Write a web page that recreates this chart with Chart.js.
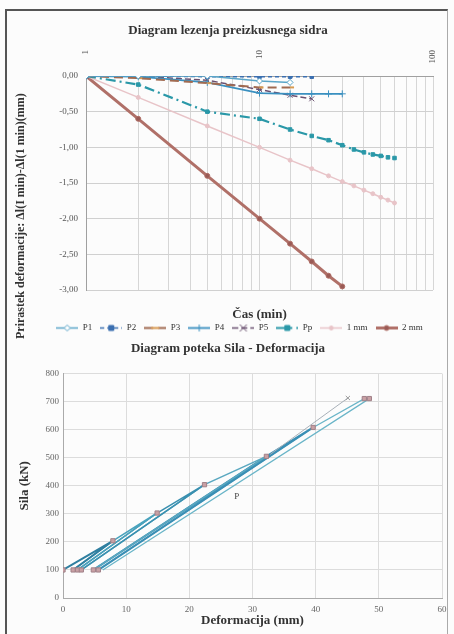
<!DOCTYPE html>
<html><head><meta charset="utf-8">
<script src="https://cdn.jsdelivr.net/npm/chart.js@4/dist/chart.umd.min.js"></script>
<style>
html,body{margin:0;padding:0;background:#fcfcfc;}
#wrap{position:relative;width:454px;height:634px;overflow:hidden;}
#frame{position:absolute;left:5px;top:9px;width:440px;height:640px;border-left:2px solid #555;border-top:2px solid #555;border-right:1px solid #aaa;}
#c1{position:absolute;left:0;top:0;}
#c2{position:absolute;left:0;top:340px;}
</style></head><body>
<div id="wrap"><div id="frame"></div>
<canvas id="c1" width="454" height="346" style="width:454px;height:346px"></canvas>
<canvas id="c2" width="454" height="294" style="width:454px;height:294px"></canvas>
</div>
<script>
// ---------- Top chart data ----------
const topTitle = 'Diagram lezenja preizkusnega sidra';
const topYTitle = 'Prirastek deformacije: \u0394l(I min)-\u0394l(1 min)(mm)';
const topXTitle = '\u010Cas (min)';
const timeTickValues = [1, 10, 100];
const timeTickLabels = ['1', '10', '100'];
const seriesNames = ['P1', 'P2', 'P3', 'P4', 'P5', 'Pp', '1 mm', '2 mm'];
const timesP1 = [1, 2, 5, 10, 15];
const valuesP1 = [0, 0, 0, -0.07, -0.09];
const timesP2 = [1, 2, 5, 10, 15, 20];
const valuesP2 = [0, 0, -0.01, -0.01, -0.01, -0.01];
const timesP3 = [1, 2, 5, 10, 15];
const valuesP3 = [0, -0.03, -0.10, -0.16, -0.16];
const timesP4 = [1, 2, 5, 10, 15, 20, 25, 30];
const valuesP4 = [0, -0.01, -0.09, -0.24, -0.25, -0.25, -0.25, -0.25];
const timesP5 = [1, 2, 5, 10, 15, 20];
const valuesP5 = [0, 0, -0.06, -0.19, -0.27, -0.32];
const timesPp = [1, 2, 5, 10, 15, 20, 25, 30, 35, 40, 45, 50, 55, 60];
const valuesPp = [0, -0.12, -0.50, -0.60, -0.75, -0.84, -0.90, -0.97, -1.03, -1.07, -1.10, -1.12, -1.14, -1.15];
const times1mm = [1, 2, 5, 10, 15, 20, 25, 30, 35, 40, 45, 50, 55, 60];
const values1mm = [0, -0.30, -0.70, -1.00, -1.18, -1.30, -1.40, -1.48, -1.54, -1.60, -1.65, -1.70, -1.74, -1.78];
const times2mm = [1, 2, 5, 10, 15, 20, 25, 30];
const values2mm = [0, -0.60, -1.40, -2.00, -2.35, -2.60, -2.80, -2.95];
const yTicksTop = [0, -0.5, -1, -1.5, -2, -2.5, -3];

// ---------- Bottom chart data ----------
const botTitle = 'Diagram poteka Sila - Deformacija';
const botXTitle = 'Deformacija (mm)';
const botYTitle = 'Sila (kN)';
const cycle1X = [0, 7.9, 1.6];            const cycle1Y = [100, 204, 100];
const cycle2X = [1.6, 7.9, 14.9, 2.3];    const cycle2Y = [100, 204, 303, 100];
const cycle3X = [2.3, 14.9, 22.4, 2.9];   const cycle3Y = [100, 303, 404, 100];
const cycle4X = [2.9, 22.4, 32.2, 4.8];   const cycle4Y = [100, 404, 505, 100];
const cycle5X = [4.8, 32.2, 39.6, 5.6];   const cycle5Y = [100, 505, 608, 100];
const cycle6X = [5.6, 39.6, 47.7, 48.5, 6.3]; const cycle6Y = [100, 608, 711, 711, 100];
const creepX = [32.8, 45.1];              const creepY = [512, 713];
const markX = [0, 1.6, 2.3, 2.9, 4.8, 5.6, 7.9, 14.9, 22.4, 32.2, 39.6, 47.7, 48.5];
const markY = [100, 100, 100, 100, 100, 100, 204, 303, 404, 505, 608, 711, 711];
const pLabel = { text: 'P', x: 27.5, y: 360 };

// ---------- helpers ----------
const pts = (xs, ys) => xs.map((x, i) => ({ x: x, y: ys[i] }));
Chart.defaults.font.family = '"Liberation Serif", "Times New Roman", serif';
Chart.defaults.color = '#555';

const topStyles = [
  { c: '#5aa5c8', w: 1.5, dash: [], ps: 'rectRot', r: 3, fill: '#ffffff' },
  { c: '#3b6fb0', w: 1.5, dash: [4, 3], ps: 'rect', r: 2.5, fill: '#3b6fb0' },
  { c: '#a06a50', w: 2, dash: [9, 5], ps: 'dash', r: 4, fill: '#d89a50' },
  { c: '#3a90c0', w: 1.8, dash: [], ps: 'cross', r: 3.5, fill: '#3a90c0' },
  { c: '#6a5070', w: 1.5, dash: [6, 3], ps: 'crossRot', r: 3.5, fill: '#6a5070' },
  { c: '#2a98a8', w: 2.2, dash: [10, 4, 2, 4], ps: 'rect', r: 2.5, fill: '#2a98a8' },
  { c: '#e8c4c8', w: 1.5, dash: [], ps: 'circle', r: 2, fill: '#e8c4c8' },
  { c: '#b07068', w: 3, dash: [], ps: 'circle', r: 2.5, fill: '#9a5a55' }
];
const topSeries = [
  pts(timesP1, valuesP1), pts(timesP2, valuesP2), pts(timesP3, valuesP3), pts(timesP4, valuesP4),
  pts(timesP5, valuesP5), pts(timesPp, valuesPp), pts(times1mm, values1mm), pts(times2mm, values2mm)
];

function makeIcon(s) {
  const c = document.createElement('canvas'); c.width = 22; c.height = 9;
  const g = c.getContext('2d');
  g.strokeStyle = s.c; g.lineWidth = s.w; g.setLineDash(s.dash);
  g.beginPath(); g.moveTo(0, 4.5); g.lineTo(22, 4.5); g.stroke();
  g.setLineDash([]); g.lineWidth = 1; g.fillStyle = s.fill; g.strokeStyle = s.c;
  const x = 11, y = 4.5, r = s.r;
  g.beginPath();
  if (s.ps === 'rectRot') { g.moveTo(x, y - r); g.lineTo(x + r, y); g.lineTo(x, y + r); g.lineTo(x - r, y); g.closePath(); g.fill(); g.stroke(); }
  else if (s.ps === 'rect') { g.rect(x - r, y - r, 2 * r, 2 * r); g.fill(); g.stroke(); }
  else if (s.ps === 'dash') { g.lineWidth = 2; g.strokeStyle = s.fill; g.moveTo(x - r, y); g.lineTo(x + r, y); g.stroke(); }
  else if (s.ps === 'cross') { g.moveTo(x, y - r); g.lineTo(x, y + r); g.moveTo(x - r, y); g.lineTo(x + r, y); g.stroke(); }
  else if (s.ps === 'crossRot') { g.moveTo(x - r, y - r); g.lineTo(x + r, y + r); g.moveTo(x + r, y - r); g.lineTo(x - r, y + r); g.stroke(); }
  else { g.arc(x, y, r, 0, Math.PI * 2); g.fill(); g.stroke(); }
  return c;
}
const icons = topStyles.map(makeIcon);

const topTextPlugin = {
  id: 'topText',
  afterDraw(chart) {
    const ctx = chart.ctx, xs = chart.scales.x, area = chart.chartArea;
    ctx.save();
    ctx.fillStyle = '#333';
    ctx.textBaseline = 'middle';
    ctx.font = 'bold 13px "Liberation Serif"';
    ctx.textAlign = 'center';
    ctx.fillText(topTitle, 228, 31);
    ctx.fillText(topXTitle, (area.left + area.right) / 2, 315);
    ctx.save();
    ctx.translate(21, 339); ctx.rotate(-Math.PI / 2);
    ctx.font = 'bold 12px "Liberation Serif"'; ctx.textAlign = 'left';
    ctx.fillText(topYTitle, 0, 0);
    ctx.restore();
    ctx.font = '9px "Liberation Serif"'; ctx.fillStyle = '#555';
    timeTickValues.forEach((v, i) => {
      const px = xs.getPixelForValue(v);
      ctx.save(); ctx.translate(px, area.top - 26); ctx.rotate(-Math.PI / 2);
      ctx.textAlign = 'right'; ctx.textBaseline = 'middle';
      ctx.fillText(timeTickLabels[i], 0, 0);
      ctx.restore();
    });
    ctx.restore();
  }
};

new Chart(document.getElementById('c1'), {
  type: 'scatter',
  data: {
    datasets: topSeries.map((d, i) => ({
      label: seriesNames[i], data: d, showLine: true,
      borderColor: topStyles[i].c, borderWidth: topStyles[i].w, borderDash: topStyles[i].dash,
      pointStyle: topStyles[i].ps, pointRadius: topStyles[i].r,
      pointBackgroundColor: topStyles[i].fill, pointBorderColor: topStyles[i].ps === 'dash' ? topStyles[i].fill : topStyles[i].c,
      pointBorderWidth: topStyles[i].ps === 'dash' ? 2 : 1, tension: 0
    }))
  },
  options: {
    responsive: false, animation: false, devicePixelRatio: 1,
    layout: { padding: { left: 46, right: 21, top: 46, bottom: 3.5 } },
    plugins: {
      title: { display: false },
      tooltip: { enabled: false },
      legend: {
        position: 'bottom',
        labels: {
          usePointStyle: true, pointStyleWidth: 22, padding: 8, color: '#333',
          font: { size: 9 },
          generateLabels(chart) {
            const items = Chart.defaults.plugins.legend.labels.generateLabels(chart);
            items.forEach(it => { it.pointStyle = icons[it.datasetIndex]; it.lineWidth = 0; });
            return items;
          }
        }
      }
    },
    scales: {
      x: {
        type: 'logarithmic', position: 'top', min: 1, max: 100,
        ticks: { display: false, autoSkip: false },
        grid: { color: '#d6d6d6', drawTicks: false },
        border: { color: '#a0a0a0' },
        afterFit: s => { s.height = 30; }
      },
      x2: {
        axis: 'x', type: 'linear', position: 'bottom', display: true,
        ticks: { display: false }, grid: { display: false }, border: { display: false },
        afterFit: s => { s.height = 25.5; }
      },
      y: {
        min: -3, max: 0,
        ticks: { stepSize: 0.5, padding: 8, font: { size: 9 }, color: '#555',
          callback: v => Number(v).toFixed(2).replace('.', ',') },
        afterBuildTicks: s => { s.ticks = yTicksTop.map(v => ({ value: v })); },
        grid: { color: '#d0d0d0', drawTicks: false },
        border: { color: '#a0a0a0' },
        afterFit: s => { s.width = 40; }
      }
    }
  },
  plugins: [topTextPlugin]
});

// ---------- Bottom chart ----------
const cyc = [
  { d: pts(cycle1X, cycle1Y), c: '#2f7fa0', w: 2 },
  { d: pts(cycle2X, cycle2Y), c: '#4aa3bd', w: 1.5 },
  { d: pts(cycle3X, cycle3Y), c: '#3a90b0', w: 1.5 },
  { d: pts(cycle4X, cycle4Y), c: '#5aa8c0', w: 1.5 },
  { d: pts(cycle5X, cycle5Y), c: '#3a8fb5', w: 2 },
  { d: pts(cycle6X, cycle6Y), c: '#6ab5c8', w: 1.3 }
];
const pLabelPlugin = {
  id: 'pLabel',
  afterDatasetsDraw(chart) {
    const ctx = chart.ctx;
    ctx.save();
    ctx.font = '9px "Liberation Serif"'; ctx.fillStyle = '#444';
    ctx.textAlign = 'center'; ctx.textBaseline = 'middle';
    ctx.fillText(pLabel.text, chart.scales.x.getPixelForValue(pLabel.x), chart.scales.y.getPixelForValue(pLabel.y));
    ctx.restore();
  }
};
new Chart(document.getElementById('c2'), {
  type: 'scatter',
  data: {
    datasets: [
      { label: 'tocke', data: pts(markX, markY), showLine: false, pointStyle: 'rect', pointRadius: 3,
        pointBackgroundColor: '#c9a0a4', pointBorderColor: '#a08088', pointBorderWidth: 1 },
      { label: 'lezenje', data: pts(creepX, creepY), showLine: true, borderColor: '#a8b0b8', borderWidth: 1,
        pointStyle: 'crossRot', pointRadius: [0, 3], pointBorderColor: '#999', pointBorderWidth: 1 }
    ].concat(cyc.map((o, i) => ({
      label: 'cikel ' + (i + 1), data: o.d, showLine: true, borderColor: o.c, borderWidth: o.w,
      pointRadius: 0, tension: 0
    })))
  },
  options: {
    responsive: false, animation: false, devicePixelRatio: 1,
    layout: { padding: { left: 14, right: 12, top: 1, bottom: 4 } },
    plugins: {
      legend: { display: false }, tooltip: { enabled: false },
      title: { display: true, text: botTitle, color: '#333', font: { size: 13, weight: 'bold' }, padding: { top: 0, bottom: 17 } }
    },
    scales: {
      x: {
        type: 'linear', min: 0, max: 60,
        ticks: { stepSize: 10, padding: 6, font: { size: 9 }, color: '#666' },
        grid: { color: '#dcdcdc', drawTicks: false }, border: { color: '#aaa' },
        title: { display: true, text: botXTitle, color: '#333', font: { size: 13, weight: 'bold' }, padding: { top: 0, bottom: 2 } },
        afterFit: s => { s.height = 32; }
      },
      y: {
        min: 0, max: 800,
        ticks: { stepSize: 100, padding: 4, font: { size: 9 }, color: '#666' },
        grid: { color: '#dcdcdc', drawTicks: false }, border: { color: '#aaa' },
        title: { display: true, text: botYTitle, color: '#333', font: { size: 13, weight: 'bold' }, padding: { top: 3, bottom: 0 } },
        afterFit: s => { s.width = 49; }
      }
    }
  },
  plugins: [pLabelPlugin]
});
</script>
</body></html>
